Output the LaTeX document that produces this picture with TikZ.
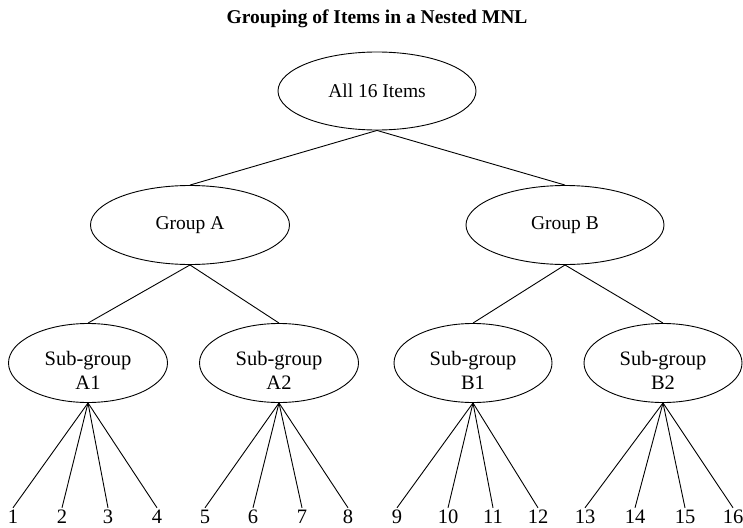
\documentclass[tikz,border=0pt]{standalone}
\usepackage{fontspec}
\setmainfont{Liberation Serif}
\usetikzlibrary{shapes.geometric}
\begin{document}
\begin{tikzpicture}[x=1pt,y=-1pt,
  oval/.style={ellipse,draw,line width=0.9pt,inner sep=0pt,align=center,font=\fontsize{19.5}{23}\selectfont},
  subtext/.style={align=center,inner sep=0pt,font=\fontsize{20.5}{24}\selectfont,yshift=-7pt},
  leaf/.style={inner sep=1pt,font=\fontsize{20.5}{22}\selectfont},
  link/.style={line width=0.9pt}]
\useasboundingbox (0,0) rectangle (743,527);
\node[font=\bfseries\fontsize{19.5}{22}\selectfont] (title) at (377,19) {Grouping of Items in a Nested MNL};
\node[oval,minimum width=198pt,minimum height=78pt] (all) at (377,91) {All 16 Items};
\node[oval,minimum width=199pt,minimum height=79pt] (ga) at (190,225) {Group A};
\node[oval,minimum width=198pt,minimum height=79pt] (gb) at (565,225) {Group B};
\node[oval,minimum width=159pt,minimum height=79pt,label={[subtext,name=a1t]center:Sub-group\\A1}] (a1) at (88,363) {};
\node[oval,minimum width=159pt,minimum height=79pt,label={[subtext,name=a2t]center:Sub-group\\A2}] (a2) at (279,363) {};
\node[oval,minimum width=158pt,minimum height=79pt,label={[subtext,name=b1t]center:Sub-group\\B1}] (b1) at (473,363) {};
\node[oval,minimum width=158pt,minimum height=79pt,label={[subtext,name=b2t]center:Sub-group\\B2}] (b2) at (663,363) {};
\foreach \i/\x in {1/13,2/62,3/108,4/157,5/205,6/253,7/302,8/348,9/397,10/448,11/493,12/538,13/585,14/635,15/685,16/733}
  \node[leaf,anchor=base,text height=14pt] (n\i) at (\x,523) {\i};
\draw[link] (all.south) -- (ga.north);
\draw[link] (all.south) -- (gb.north);
\draw[link] (ga.south) -- (a1.north);
\draw[link] (ga.south) -- (a2.north);
\draw[link] (gb.south) -- (b1.north);
\draw[link] (gb.south) -- (b2.north);
\foreach \i in {1,2,3,4} \draw[link] (a1.south) -- (n\i.north);
\foreach \i in {5,6,7,8} \draw[link] (a2.south) -- (n\i.north);
\foreach \i in {9,10,11,12} \draw[link] (b1.south) -- (n\i.north);
\foreach \i in {13,14,15,16} \draw[link] (b2.south) -- (n\i.north);
\end{tikzpicture}
\end{document}
